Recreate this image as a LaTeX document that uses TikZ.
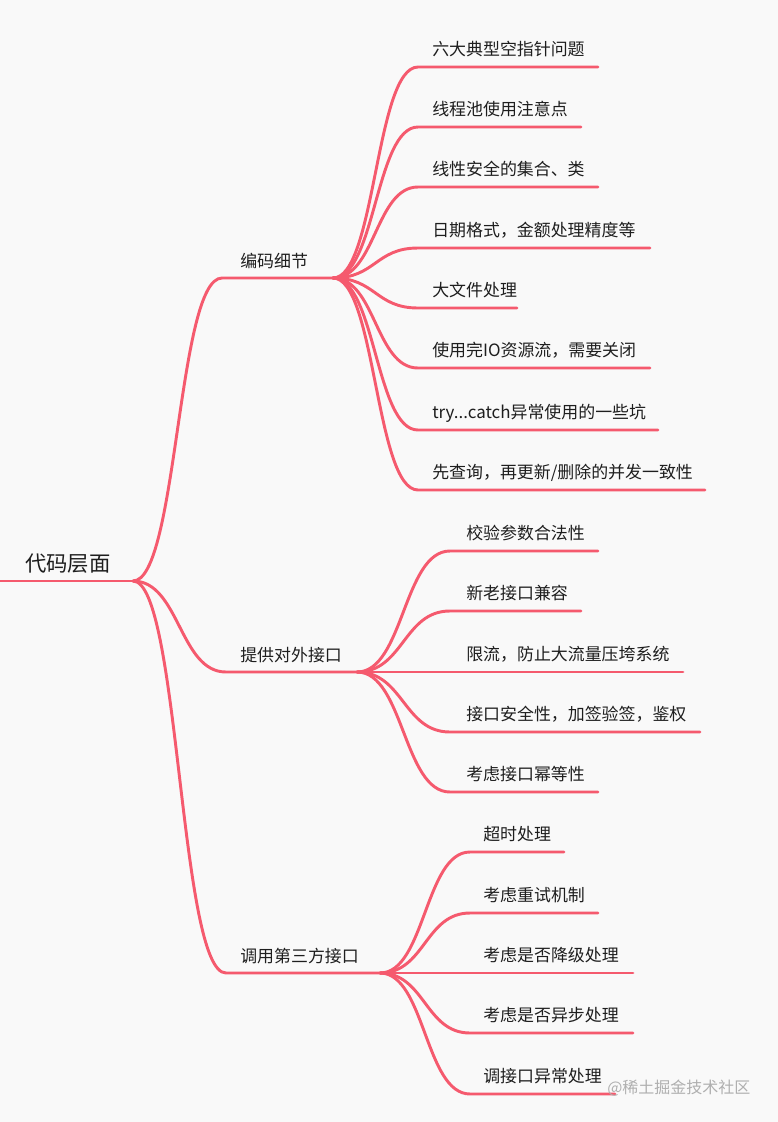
\documentclass[tikz,border=0pt]{standalone}
\usepackage{fontspec}
\setmainfont{Noto Sans CJK SC}
\usetikzlibrary{calc}
\definecolor{br}{RGB}{245,90,110}
\definecolor{bg}{RGB}{249,249,249}
\definecolor{tx}{RGB}{30,30,30}
\definecolor{wm}{RGB}{175,175,175}
\newcommand\mytrytext{try...catch异常使用的一些坑}
\begin{document}
\begin{tikzpicture}[x=0.75pt,y=-0.75pt,
  link/.style={draw=br, line width=2.2pt, line cap=round,
    to path={let \p1=(\tikztostart), \p2=(\tikztotarget) in
      .. controls ({(\x1+\x2)/2},\y1) and ({(\x1+\x2)/2},\y2) .. (\tikztotarget)}},
  leaf/.style={anchor=base west, inner sep=0pt, text=tx, font=\fontsize{12.7pt}{14pt}\selectfont},
  rootlabel/.style={anchor=base west, inner sep=0pt, text=tx, font=\fontsize{16pt}{18pt}\selectfont},
  wmark/.style={anchor=base west, inner sep=0pt, text=wm, font=\fontsize{12pt}{14pt}\selectfont}]
\fill[bg] (0,0) rectangle (778,1122);
\useasboundingbox (0,0) rectangle (778,1122);

% root
\coordinate (r0) at (0,581);
\coordinate (r) at (133,581);
\node[rootlabel] (root) at (25,571) {代码层面};
\draw[link] (r0) -- (r);

% branch 1
\coordinate (b1s) at (222,278);
\coordinate (b1) at (333,278);
\node[leaf] (b1t) at (240,267) {编码细节};
\draw[link] (r) to (b1s) -- (b1);

% branch 2
\coordinate (b2s) at (226,672);
\coordinate (b2) at (357,672);
\node[leaf] (b2t) at (240,661) {提供对外接口};
\draw[link] (r) to (b2s) -- (b2);

% branch 3
\coordinate (b3s) at (226,973);
\coordinate (b3) at (380,973);
\node[leaf] (b3t) at (240,962) {调用第三方接口};
\draw[link] (r) to (b3s) -- (b3);

% children of branch 1
\foreach \i/\y/\e/\t in {
  1/67/598/六大典型空指针问题,
  2/127/581/线程池使用注意点,
  3/187/598/线性安全的集合、类,
  4/248/650/{日期格式，金额处理精度等},
  5/308/517/大文件处理,
  6/368/650/{使用完IO资源流，需要关闭},
  7/430/658/\mytrytext,
  8/490/705/{先查询，再更新/删除的并发一致性}}{
  \coordinate (a\i s) at (418,\y);
  \coordinate (a\i e) at (\e,\y);
  \node[leaf] (a\i t) at (432,\y-12) {\t};
  \draw[link] (b1) to (a\i s) -- (a\i e);
}

% children of branch 2
\foreach \i/\y/\e/\t in {
  1/551/598/校验参数合法性,
  2/611/581/新老接口兼容,
  3/672/683/{限流，防止大流量压垮系统},
  4/732/700/{接口安全性，加签验签，鉴权},
  5/792/598/考虑接口幂等性}{
  \coordinate (p\i s) at (450,\y);
  \coordinate (p\i e) at (\e,\y);
  \node[leaf] (p\i t) at (466,\y-12) {\t};
  \draw[link] (b2) to (p\i s) -- (p\i e);
}

% children of branch 3
\foreach \i/\y/\e/\t in {
  1/852/564/超时处理,
  2/913/598/考虑重试机制,
  3/973/633/考虑是否降级处理,
  4/1033/633/考虑是否异步处理,
  5/1094/615/调接口异常处理}{
  \coordinate (q\i s) at (470,\y);
  \coordinate (q\i e) at (\e,\y);
  \node[leaf] (q\i t) at (483,\y-12) {\t};
  \draw[link] (b3) to (q\i s) -- (q\i e);
}

\node[wmark] (wmk) at (607,1093) {@稀土掘金技术社区};
\end{tikzpicture}
\end{document}
